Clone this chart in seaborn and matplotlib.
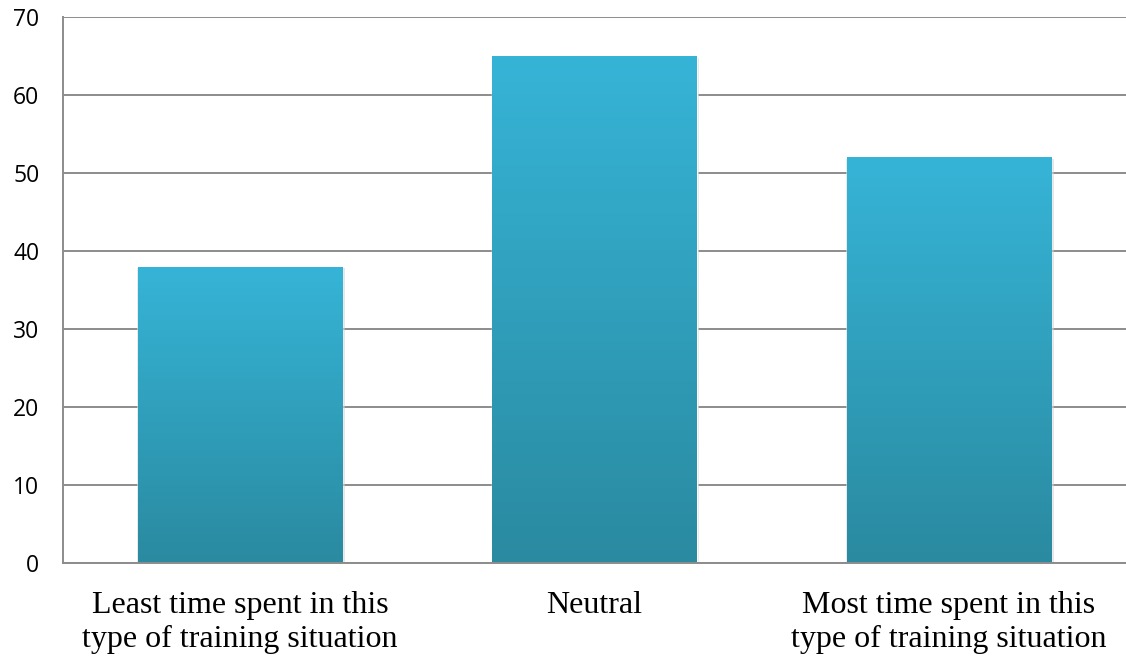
import numpy as np
import pandas as pd
import matplotlib
matplotlib.use("Agg")
import matplotlib.pyplot as plt
import seaborn as sns
from matplotlib.colors import LinearSegmentedColormap

categories = ["Least time spent in this\ntype of training situation",
              "Neutral",
              "Most time spent in this\ntype of training situation"]
counts = [38, 65, 52]
yticks = [0, 10, 20, 30, 40, 50, 60, 70]

df = pd.DataFrame({"category": categories, "count": counts})

sns.set_style("white")
fig = plt.figure(figsize=(11.26, 6.62), dpi=100)
ax = fig.add_axes([63 / 1126, 99 / 662, 1 - 63 / 1126, (563 - 17) / 662])

sns.barplot(data=df, x="category", y="count", color="#31a8c8", width=0.576, ax=ax)

# gradient fill on each bar, light on top, darker at the base
grad = LinearSegmentedColormap.from_list("bar", ["#2a8aa0", "#36b4d7"])
for p in ax.patches:
    x0, y0 = p.get_x(), p.get_y()
    w, h = p.get_width(), p.get_height()
    # soft shadow
    ax.bar(x0 + w / 2 + 0.003, h + 0.1, width=w + 0.01, bottom=-0.3, color="#cfcfcf",
           alpha=0.5, zorder=1.5, linewidth=0)
    img = ax.imshow(np.linspace(0, 1, 256).reshape(-1, 1), cmap=grad, origin="lower",
                    extent=[x0, x0 + w, y0, y0 + h], aspect="auto", zorder=2)
    img.set_clip_path(p)
    p.set_zorder(2)

ax.set_xlim(-0.5, 2.5)
ax.set_ylim(0, 70)
ax.set_yticks(yticks)
ax.yaxis.grid(True, color="#8c8c8c", linewidth=1.4)
ax.set_axisbelow(True)
ax.set_xlabel("")
ax.set_ylabel("")
for s in ["top", "right"]:
    ax.spines[s].set_visible(False)
for s in ["left", "bottom"]:
    ax.spines[s].set_color("#8c8c8c")
    ax.spines[s].set_linewidth(1.4)
ax.tick_params(axis="both", length=0)
ax.tick_params(axis="y", pad=17)
ax.tick_params(axis="x", pad=20)
for t in ax.get_yticklabels():
    t.set_fontfamily("Open Sans")
    t.set_fontsize(16.5)
    t.set_color("black")
    t.set_horizontalalignment("right")
for t in ax.get_xticklabels():
    t.set_fontfamily("Liberation Serif")
    t.set_fontsize(23)
    t.set_color("black")
    t.set_linespacing(1.25)

fig.savefig("out.png", dpi=100)
